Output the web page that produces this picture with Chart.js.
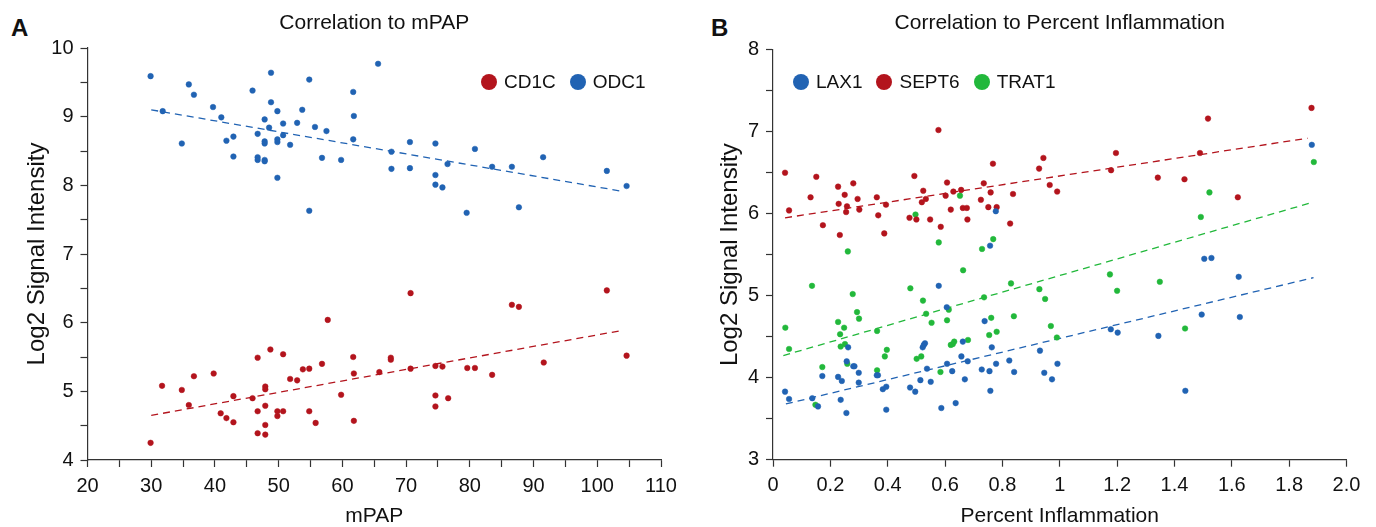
<!DOCTYPE html>
<html>
<head>
<meta charset="utf-8">
<script src="https://cdn.jsdelivr.net/npm/chart.js@4.4.1/dist/chart.umd.min.js"></script>
<style>
  html, body { margin: 0; padding: 0; background: #fff; }
  body { width: 1376px; height: 527px; position: relative; overflow: hidden;
         font-family: "Liberation Sans", Arial, sans-serif; color: #111; }
  .panel { position: absolute; top: 0; width: 688px; height: 527px; }
  .letter { position: absolute; top: 16px; font-weight: bold; font-size: 24px; line-height: 24px; }
  .legend { position: absolute; top: 72px; display: flex; font-size: 19px; line-height: 20px; }
  .legend .item { display: flex; align-items: center; margin-right: 14px; }
  .legend i { width: 16px; height: 16px; border-radius: 50%; display: inline-block; margin-right: 7px; }
</style>
</head>
<body>
<div class="letter" style="left:11px">A</div>
<div class="letter" style="left:711px">B</div>
<canvas id="chartA" class="panel" style="left:0" width="688" height="527"></canvas>
<canvas id="chartB" class="panel" style="left:688px" width="688" height="527"></canvas>
<div id="legendA" class="legend" style="left:481px"></div>
<div id="legendB" class="legend" style="left:793px"></div>

<script>
// ---------- Panel A : correlation to mPAP ----------
const cd1cX = [29.9, 31.7, 34.8, 35.9, 36.7, 39.8, 40.9, 41.8, 42.9, 42.9, 45.9, 46.7, 48.7, 50.7, 47.9, 47.9, 47.9, 46.7,
  47.9, 46.7, 47.9, 49.8, 49.8, 50.7, 51.8, 52.9, 53.8, 54.8, 56.8, 57.7, 54.8, 55.8, 59.8, 61.7, 61.8, 61.8, 65.8,
  70.7, 67.6, 67.6, 70.7, 74.6, 75.7, 79.6, 80.8, 83.5, 74.6, 76.6, 74.6, 86.6, 87.7, 91.6, 101.5, 104.6];
const cd1cY = [4.25, 5.08, 5.02, 4.80, 5.22, 5.26, 4.68, 4.61, 4.93, 4.55, 4.90, 5.49, 5.61, 5.54, 5.07, 5.03, 4.79, 4.71,
  4.51, 4.39, 4.37, 4.71, 4.64, 4.71, 5.18, 5.16, 5.32, 5.33, 5.40, 6.04, 4.71, 4.54, 4.95, 5.50, 5.26, 4.57, 5.28,
  6.43, 5.49, 5.46, 5.33, 5.37, 5.36, 5.34, 5.34, 5.24, 4.94, 4.90, 4.78, 6.26, 6.23, 5.42, 6.47, 5.52];

const odc1X = [29.9, 35.9, 36.7, 31.8, 39.7, 41.0, 34.8, 41.8, 42.9, 42.9, 45.9, 48.8, 48.8, 49.8, 47.8, 48.5, 46.7, 47.8,
  47.8, 49.8, 49.8, 50.7, 50.7, 51.8, 46.7, 46.7, 47.8, 47.8, 49.8, 52.9, 53.7, 54.8, 55.7, 57.5, 56.8, 59.8, 54.8,
  61.7, 61.8, 61.7, 65.6, 70.6, 74.6, 67.7, 67.7, 70.6, 80.8, 76.5, 74.6, 74.6, 75.7, 83.5, 86.6, 91.5, 101.5, 104.6,
  79.5, 87.7];
const odc1Y = [9.59, 9.47, 9.32, 9.08, 9.14, 8.99, 8.61, 8.65, 8.71, 8.42, 9.38, 9.64, 9.21, 9.08, 8.96, 8.84, 8.75, 8.64,
  8.61, 8.67, 8.63, 8.90, 8.73, 8.59, 8.41, 8.37, 8.37, 8.35, 8.11, 8.91, 9.10, 9.54, 8.85, 8.79, 8.40, 8.37, 7.63,
  9.36, 9.01, 8.67, 9.77, 8.63, 8.61, 8.49, 8.24, 8.25, 8.53, 8.31, 8.15, 8.01, 7.97, 8.27, 8.27, 8.41, 8.21, 7.99,
  7.60, 7.68];

const cd1cFitX = [30, 103.5];
const cd1cFitY = [4.65, 5.88];
const odc1FitX = [30, 103.5];
const odc1FitY = [9.10, 7.92];

const mpapTicks = [20, 25, 30, 35, 40, 45, 50, 55, 60, 65, 70, 75, 80, 85, 90, 95, 100, 105, 110];
const mpapTickLabels = ['20', '', '30', '', '40', '', '50', '', '60', '', '70', '', '80', '', '90', '', '100', '', '110'];
const signalTicksA = [4, 4.5, 5, 5.5, 6, 6.5, 7, 7.5, 8, 8.5, 9, 9.5, 10];
const signalTickLabelsA = ['4', '', '5', '', '6', '', '7', '', '8', '', '9', '', '10'];

// ---------- Panel B : correlation to percent inflammation ----------
const lax1X = [0.042, 0.056, 0.137, 0.157, 0.172, 0.227, 0.240, 0.236, 0.256, 0.262, 0.257, 0.280, 0.284, 0.299, 0.299,
  0.362, 0.366, 0.383, 0.395, 0.395, 0.478, 0.496, 0.514, 0.522, 0.526, 0.530, 0.537, 0.550, 0.578, 0.607, 0.625,
  0.587, 0.637, 0.657, 0.679, 0.662, 0.606, 0.669, 0.728, 0.755, 0.738, 0.763, 0.778, 0.758, 0.757, 0.777, 0.824,
  0.841, 0.931, 0.946, 0.973, 0.992, 1.178, 1.202, 1.344, 1.438, 1.495, 1.504, 1.529, 1.624, 1.628, 1.879];
const lax1Y = [3.83, 3.74, 3.75, 3.65, 4.02, 4.01, 3.96, 3.73, 3.57, 4.37, 4.20, 4.14, 4.14, 4.06, 3.94,
  4.03, 4.03, 3.86, 3.89, 3.61, 3.88, 3.83, 3.97, 4.37, 4.40, 4.42, 4.11, 3.95, 5.12, 4.17, 4.08,
  3.63, 3.69, 4.26, 4.20, 4.44, 4.86, 3.98, 4.10, 4.08, 4.69, 4.37, 4.17, 3.84, 5.61, 6.03, 4.21,
  4.07, 4.33, 4.06, 3.98, 4.17, 4.59, 4.55, 4.51, 3.84, 4.77, 5.45, 5.46, 5.23, 4.74, 6.84];

const sept6X = [0.042, 0.056, 0.131, 0.151, 0.174, 0.233, 0.227, 0.250, 0.229, 0.258, 0.255, 0.280, 0.295, 0.301, 0.362,
  0.394, 0.367, 0.388, 0.493, 0.524, 0.533, 0.519, 0.476, 0.500, 0.548, 0.585, 0.577, 0.607, 0.602, 0.629, 0.656,
  0.620, 0.662, 0.676, 0.678, 0.735, 0.725, 0.751, 0.759, 0.767, 0.780, 0.837, 0.827, 0.928, 0.943, 0.965, 0.991,
  1.196, 1.179, 1.342, 1.435, 1.489, 1.517, 1.621, 1.878];
const sept6Y = [6.50, 6.04, 6.20, 6.45, 5.86, 5.74, 6.33, 6.23, 6.12, 6.09, 6.02, 6.37, 6.18, 6.05, 6.20,
  6.11, 5.98, 5.76, 6.46, 6.28, 6.18, 6.14, 5.95, 5.93, 5.93, 5.84, 7.02, 6.38, 6.22, 6.27, 6.29,
  6.05, 6.07, 6.07, 5.93, 6.37, 6.17, 6.08, 6.26, 6.61, 6.08, 6.24, 5.88, 6.55, 6.68, 6.35, 6.27,
  6.74, 6.53, 6.44, 6.42, 6.74, 7.16, 6.20, 7.29];

const trat1X = [0.043, 0.056, 0.136, 0.172, 0.148, 0.261, 0.227, 0.248, 0.234, 0.236, 0.251, 0.259, 0.278, 0.293, 0.300,
  0.363, 0.390, 0.397, 0.363, 0.479, 0.497, 0.523, 0.534, 0.553, 0.501, 0.517, 0.578, 0.607, 0.613, 0.584, 0.620,
  0.627, 0.632, 0.652, 0.663, 0.680, 0.729, 0.768, 0.736, 0.761, 0.754, 0.780, 0.830, 0.840, 0.929, 0.949, 0.969,
  0.990, 1.175, 1.200, 1.349, 1.437, 1.492, 1.522, 1.886];
const trat1Y = [4.61, 4.35, 5.12, 4.13, 3.67, 5.54, 4.68, 4.61, 4.53, 4.38, 4.41, 4.17, 5.02, 4.80, 4.72,
  4.57, 4.26, 4.34, 4.09, 5.09, 5.99, 4.94, 4.78, 4.67, 4.23, 4.26, 5.65, 4.70, 4.83, 4.07, 4.40,
  4.41, 4.44, 6.22, 5.31, 4.46, 5.57, 5.69, 4.98, 4.73, 4.52, 4.56, 5.15, 4.75, 5.08, 4.96, 4.63,
  4.49, 5.26, 5.06, 5.17, 4.60, 5.96, 6.26, 6.63];

const lax1FitX = [0.045, 1.885];
const lax1FitY = [3.68, 5.22];
const sept6FitX = [0.042, 1.864];
const sept6FitY = [5.95, 6.92];
const trat1FitX = [0.036, 1.873];
const trat1FitY = [4.27, 6.13];

const inflTicks = [0, 0.2, 0.4, 0.6, 0.8, 1, 1.2, 1.4, 1.6, 1.8, 2];
const inflTickLabels = ['0', '0.2', '0.4', '0.6', '0.8', '1', '1.2', '1.4', '1.6', '1.8', '2.0'];
const signalTicksB = [3, 3.5, 4, 4.5, 5, 5.5, 6, 6.5, 7, 7.5, 8];
const signalTickLabelsB = ['3', '', '4', '', '5', '', '6', '', '7', '', '8'];

const RED = '#b3141d';
const BLUE = '#2163b3';
const GREEN = '#22b83b';
const INK = '#111';
const AXIS = '#333';

Chart.defaults.font.family = '"Liberation Sans", Arial, Helvetica, sans-serif';
Chart.defaults.color = INK;

function pts(xs, ys) {
  return xs.map((x, i) => ({ x: x, y: ys[i] }));
}

function dots(label, xs, ys, color) {
  return {
    label: label, data: pts(xs, ys),
    backgroundColor: color, borderColor: color, borderWidth: 0.5,
    pointRadius: 2.8, pointHoverRadius: 2.8, pointStyle: 'circle', order: 1
  };
}

function fitLine(xs, ys, color) {
  return {
    label: '', isFit: true, data: pts(xs, ys), showLine: true,
    borderColor: color, borderWidth: 1.3, borderDash: [7, 5],
    pointRadius: 0, pointHoverRadius: 0, fill: false, order: 2
  };
}

// titlePad only matters for the y axis title (distance from the canvas edge)
function makeScale(min, max, values, labels, title, size, isX, titlePad) {
  return {
    type: 'linear', min: min, max: max,
    afterBuildTicks: s => { s.ticks = values.map(v => ({ value: v })); },
    afterFit: s => { if (isX) s.height = size; else s.width = size; },
    ticks: {
      autoSkip: false, maxRotation: 0, color: INK, padding: 7,
      font: { size: 20 },
      callback: (v, i) => labels[i]
    },
    grid: { drawOnChartArea: false, drawTicks: true, tickLength: 7, tickColor: AXIS, tickWidth: 1.2 },
    border: { display: true, color: AXIS, width: 1.2 },
    title: {
      display: true, text: title, color: INK,
      font: { size: isX ? 21 : 24, lineHeight: 1 },
      padding: { top: titlePad || 0, bottom: 0 }
    }
  };
}

function makeChart(id, title, datasets, xScale, yScale, padRight, titlePad) {
  return new Chart(document.getElementById(id), {
    type: 'scatter',
    data: { datasets: datasets },
    options: {
      responsive: false, animation: false, devicePixelRatio: 1,
      layout: { padding: { left: 0, right: padRight, top: 0, bottom: 0 } },
      plugins: {
        legend: { display: false },
        tooltip: { enabled: false },
        title: {
          display: true, text: title, fullSize: false, color: INK,
          font: { size: 21, weight: 'normal', lineHeight: 1.2 },
          padding: titlePad
        }
      },
      scales: { x: xScale, y: yScale }
    }
  });
}

// html legend built from the chart's scatter datasets
function buildLegend(chart, el) {
  chart.data.datasets.forEach(ds => {
    if (ds.isFit) return;
    const item = document.createElement('span');
    item.className = 'item';
    const dot = document.createElement('i');
    dot.style.background = ds.backgroundColor;
    item.appendChild(dot);
    item.appendChild(document.createTextNode(ds.label));
    el.appendChild(item);
  });
}

const chartA = makeChart('chartA', 'Correlation to mPAP',
  [
    dots('CD1C', cd1cX, cd1cY, RED),
    dots('ODC1', odc1X, odc1Y, BLUE),
    fitLine(cd1cFitX, cd1cFitY, RED),
    fitLine(odc1FitX, odc1FitY, BLUE)
  ],
  makeScale(20, 110, mpapTicks, mpapTickLabels, 'mPAP', 67, true),
  makeScale(4, 10, signalTicksA, signalTickLabelsA, 'Log2 Signal Intensity', 87.5, false, 25),
  27, { top: 11, bottom: 11.8 });

const chartB = makeChart('chartB', 'Correlation to Percent Inflammation',
  [
    dots('LAX1', lax1X, lax1Y, BLUE),
    dots('SEPT6', sept6X, sept6Y, RED),
    dots('TRAT1', trat1X, trat1Y, GREEN),
    fitLine(lax1FitX, lax1FitY, BLUE),
    fitLine(sept6FitX, sept6FitY, RED),
    fitLine(trat1FitX, trat1FitY, GREEN)
  ],
  makeScale(0, 2, inflTicks, inflTickLabels, 'Percent Inflammation', 67.3, true),
  makeScale(3, 8, signalTicksB, signalTickLabelsB, 'Log2 Signal Intensity', 85, false, 30),
  29.5, { top: 11, bottom: 13.5 });

buildLegend(chartA, document.getElementById('legendA'));
buildLegend(chartB, document.getElementById('legendB'));
</script>
</body>
</html>
